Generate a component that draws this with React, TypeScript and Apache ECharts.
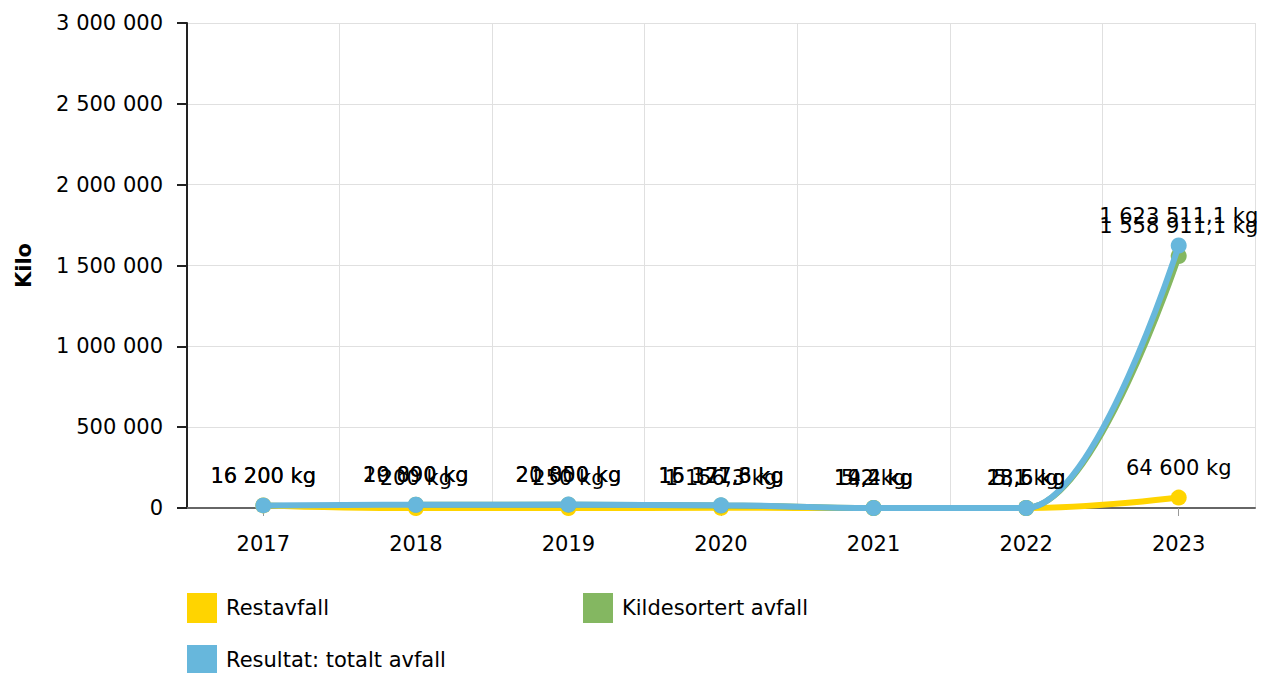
import React, { useEffect, useRef } from "react";
import * as echarts from "echarts";

const years = ["2017", "2018", "2019", "2020", "2021", "2022", "2023"];
const restavfall = [16200, 200, 250, 1156.3, 14.2, 18.5, 64600];
const kildesortert = [null, 19890, 20800, 15171.3, 5.2, 5.1, 1558911.1];
const totalt = [16200, 20090, 21050, 16327.6, 19.4, 23.6, 1623511.1];
const seriesNames = ["Restavfall", "Kildesortert avfall", "Resultat: totalt avfall"];
const colors = ["#ffd400", "#84b761", "#67b7dc"];
const yTicks = { min: 0, max: 3000000, interval: 500000 };

const FONT = "DejaVu Sans";

function fmtNum(v: number): string {
  const neg = v < 0;
  const abs = Math.abs(v);
  const s = String(Math.round(abs * 10) / 10);
  const [ip, fp] = s.split(".");
  const grouped = ip.replace(/\B(?=(\d{3})+(?!\d))/g, " ");
  return (neg ? "-" : "") + grouped + (fp ? "," + fp : "");
}

export default function App() {
  const ref = useRef<HTMLDivElement>(null);
  useEffect(() => {
    if (!ref.current) return;
    const chart = echarts.init(ref.current, null, { renderer: "svg" });
    const data = [restavfall, kildesortert, totalt];
    const series = data.map((d, i) => ({
      name: seriesNames[i],
      type: "line",
      data: d,
      smooth: 0.45,
      smoothMonotone: "x",
      symbol: "circle",
      symbolSize: 16,
      showSymbol: true,
      connectNulls: false,
      lineStyle: { width: 6, color: colors[i] },
      itemStyle: { color: colors[i] },
      label: {
        show: true,
        position: "top",
        distance: 11,
        color: "#000",
        fontFamily: FONT,
        fontSize: 21,
        formatter: (p: any) => fmtNum(p.value) + " kg",
      },
      z: 2 + i,
    }));
    const legendCommon = {
      icon: "rect",
      itemWidth: 30,
      itemHeight: 30,
      itemGap: 8,
      padding: 0,
      textStyle: { fontFamily: FONT, fontSize: 21, color: "#000", padding: [0, 0, 0, 4] },
      selectedMode: false,
    };
    chart.setOption({
      animation: false,
      color: colors,
      grid: { left: 187, right: 6, top: 23, bottom: 165, containLabel: false },
      legend: [
        { ...legendCommon, data: [seriesNames[0]], left: 187, top: 593 },
        { ...legendCommon, data: [seriesNames[1]], left: 583, top: 593 },
        { ...legendCommon, data: [seriesNames[2]], left: 187, top: 645 },
      ],
      xAxis: {
        type: "category",
        data: years,
        boundaryGap: true,
        axisLine: { show: true, lineStyle: { color: "#666", width: 2 } },
        axisTick: { show: true, alignWithLabel: true, length: 8, lineStyle: { color: "#999" } },
        axisLabel: { fontFamily: FONT, fontSize: 21, color: "#000", margin: 25 },
        splitLine: { show: true, lineStyle: { color: "#e0e0e0", width: 1 } },
      },
      yAxis: {
        type: "value",
        min: yTicks.min,
        max: yTicks.max,
        interval: yTicks.interval,
        name: "Kilo",
        nameLocation: "middle",
        nameGap: 153,
        nameTextStyle: { fontFamily: FONT, fontSize: 21, fontWeight: "bold", color: "#000" },
        axisLine: { show: true, lineStyle: { color: "#222", width: 2 } },
        axisTick: { show: true, length: 10, lineStyle: { color: "#222", width: 2 } },
        axisLabel: {
          fontFamily: FONT,
          fontSize: 21,
          color: "#000",
          margin: 24,
          formatter: (v: number) => fmtNum(v),
        },
        splitLine: { show: true, lineStyle: { color: "#e0e0e0", width: 1 } },
      },
      series,
    });
    return () => chart.dispose();
  }, []);
  return (
    <div
      ref={ref}
      style={{ position: "fixed", left: 0, top: 0, width: 1261, height: 673, background: "#fff" }}
    />
  );
}
